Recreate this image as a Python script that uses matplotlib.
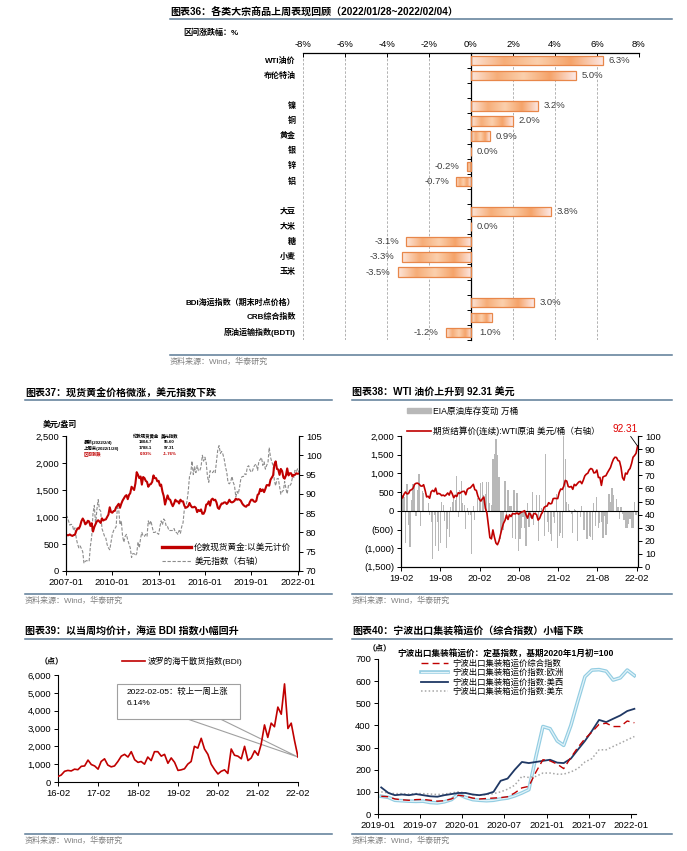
import numpy as np
import pandas as pd
import matplotlib
matplotlib.use("Agg")
import matplotlib.pyplot as plt
import matplotlib.dates as mdates
import matplotlib.ticker as mticker
import matplotlib.patheffects as pe
from matplotlib.colors import LinearSegmentedColormap
from matplotlib.patches import Polygon, Rectangle, Patch
from matplotlib.lines import Line2D
from matplotlib.transforms import blended_transform_factory

plt.rcParams["font.family"] = ["Liberation Sans", "Noto Sans CJK SC", "DejaVu Sans"]
plt.rcParams["axes.unicode_minus"] = False

# ---------------- data ----------------
# chart 36: weekly change of commodities, %
commodities = ["WTI油价", "布伦特油", "", "镍", "铜", "黄金", "银", "锌", "铝", "",
               "大豆", "大米", "糖", "小麦", "玉米", "",
               "BDI海运指数（期末时点价格）", "CRB综合指数", "原油运输指数(BDTI)"]
changes = [6.3, 5.0, np.nan, 3.2, 2.0, 0.9, 0.0, -0.2, -0.7, np.nan,
           3.8, 0.0, -3.1, -3.3, -3.5, np.nan, 3.0, 1.0, -1.2]

# chart 37: monthly gold (USD/oz) and dollar index, 2007-01 .. 2022-02
gold = [650, 665, 662, 677, 660, 650, 665, 673, 743, 790, 783, 834,
        923, 972, 933, 865, 885, 930, 918, 834, 885, 730, 815, 870,
        920, 940, 915, 890, 975, 935, 950, 955, 1000, 1045, 1180, 1090,
        1080, 1110, 1115, 1180, 1210, 1245, 1170, 1245, 1305, 1345, 1385, 1405,
        1330, 1410, 1440, 1560, 1530, 1500, 1620, 1830, 1780, 1720, 1750, 1600,
        1740, 1720, 1670, 1650, 1560, 1600, 1610, 1650, 1770, 1720, 1720, 1660,
        1670, 1580, 1600, 1470, 1390, 1230, 1320, 1400, 1330, 1320, 1250, 1200,
        1250, 1320, 1290, 1290, 1250, 1320, 1290, 1290, 1210, 1170, 1180, 1200,
        1260, 1210, 1180, 1180, 1190, 1170, 1090, 1130, 1110, 1140, 1060, 1060,
        1110, 1230, 1240, 1290, 1210, 1320, 1340, 1310, 1320, 1270, 1170, 1150,
        1210, 1250, 1250, 1270, 1270, 1240, 1270, 1320, 1280, 1270, 1280, 1300,
        1340, 1320, 1330, 1320, 1300, 1250, 1220, 1200, 1190, 1220, 1220, 1280,
        1320, 1320, 1290, 1280, 1300, 1410, 1430, 1520, 1480, 1510, 1460, 1520,
        1590, 1590, 1580, 1690, 1730, 1770, 1970, 2030, 1890, 1880, 1780, 1890,
        1850, 1730, 1710, 1770, 1900, 1770, 1810, 1810, 1750, 1780, 1780, 1810,
        1800, 1805]
dxy = [84.5, 84.0, 83.0, 81.9, 82.1, 82.0, 80.5, 81.2, 78.5, 77.0, 76.0, 76.5,
       75.8, 75.0, 72.0, 72.5, 72.7, 72.6, 72.5, 76.5, 79.0, 85.0, 87.0, 82.0,
       86.0, 88.5, 86.0, 85.5, 81.0, 80.0, 79.0, 78.5, 76.8, 76.0, 75.5, 77.5,
       79.5, 80.5, 81.0, 81.5, 86.5, 86.0, 82.0, 83.0, 79.0, 77.5, 79.0, 79.5,
       78.0, 77.0, 76.0, 73.5, 74.5, 74.5, 74.0, 74.5, 77.5, 76.0, 78.5, 80.0,
       79.0, 79.0, 79.5, 79.0, 83.0, 82.0, 83.0, 81.5, 80.0, 80.0, 80.2, 79.8,
       79.5, 81.5, 83.0, 82.0, 83.5, 83.0, 81.5, 81.5, 80.5, 80.5, 80.5, 80.5,
       81.0, 80.0, 80.0, 79.5, 80.5, 79.8, 81.5, 82.5, 86.0, 86.5, 88.0, 90.5,
       94.5, 95.5, 98.5, 95.0, 97.0, 95.5, 97.3, 96.0, 96.0, 97.0, 100.0, 98.5,
       99.5, 98.0, 94.5, 93.0, 96.0, 95.8, 95.5, 96.0, 95.5, 98.5, 101.5, 102.5,
       100.5, 101.0, 100.3, 99.0, 97.0, 95.6, 92.9, 92.6, 93.1, 94.5, 93.0, 92.1,
       89.2, 90.6, 90.0, 91.8, 94.0, 94.5, 94.5, 95.2, 95.0, 97.0, 97.3, 96.2,
       95.6, 96.0, 97.0, 97.5, 97.7, 96.1, 98.5, 98.9, 99.4, 97.4, 98.3, 96.4,
       97.4, 98.1, 102.0, 99.5, 98.3, 97.4, 93.4, 92.1, 93.9, 94.0, 91.9, 89.9,
       90.6, 90.9, 93.2, 91.3, 90.0, 92.3, 92.1, 92.6, 94.2, 94.1, 96.1, 95.7,
       96.5, 95.6]
gold_table_rows = ["最新(2022/2/4)", "上周末(2022/1/28)", "区间涨跌"]
gold_table_gold = ["1804.7", "1788.1", "0.93%"]
gold_table_dxy = ["95.60", "97.31", "-1.76%"]

# chart 38: weekly EIA crude stock change (10k bbl) and WTI (USD/bbl)
eia = [130, 360, 370, -860, 710, -390, -960, 280, 720, 700, -140, 550, 990,
       -400, 540, 470, -30, -30, 220, -110, -310, -1280, -110, -950, -310, -1080,
       -850, 240, 160, -270, -1000, -480, -690, 110, 240, 310, 290, 930, -170,
       570, 790, 220, 160, -490, 80, -110, -110, -1150,
       120, -250, -40, 350, 340, 740, 760, 420, 450, 780, 770, 200, 160,
       1380, 1520, 1920, 1500, 900, -750, -500, -500, 790, -210, 570, 120, 140,
       -720, 570, -750, 490, -1060, -740, -450, -160, -470, -940, 200, -440, -200,
       500, -380, -100, 430, -800, 430, 77, -75, -680, 1520, -310, -560, -610,
       -800, -170, -320, 440, -990, -660, -580, -720, 2160, 1380, 240, 190, 10,
       -90, -590, 60, 10, -800, -40, -170, 130, -510, -520, -740, -760, -670,
       -690, -790, 210, -410, 360, -450, -320, -300, -720, -150, -640, -350, 460,
       230, 610, 430, -43, 330, 100, -210, 100, -91, -240, -460, -470, -360, -210,
       -460, -460, 240, -100]
wti = [55.3, 52.7, 55.6, 57.3, 55.8, 56.1, 58.5, 59.0, 60.1, 63.1, 63.9, 64.0,
       63.3, 61.9, 61.7, 62.8, 58.6, 53.5, 54.0, 52.5, 57.4, 58.5, 57.5, 60.2,
       55.6, 56.2, 55.7, 54.5, 54.9, 54.2, 55.1, 56.5, 54.9, 58.1, 55.9, 52.8,
       54.7, 53.8, 56.7, 56.2, 57.2, 57.7, 57.8, 55.2, 59.2, 60.1, 60.4, 61.7,
       63.1, 59.0, 58.5, 54.2, 51.6, 50.3, 52.1, 53.4, 44.8, 41.3, 31.7, 22.4,
       21.5, 28.3, 22.8, 18.3, 17.0, 19.8, 24.7, 29.4, 33.3, 35.5, 39.6, 36.3,
       39.8, 38.5, 40.7, 40.6, 40.6, 41.3, 40.3, 41.2, 42.0, 42.3, 43.0, 39.8,
       37.3, 41.1, 40.3, 37.1, 40.6, 40.9, 39.9, 35.8, 37.1, 40.1, 42.2, 45.5,
       46.3, 46.6, 49.1, 48.2, 48.5,
       52.2, 52.4, 52.3, 52.2, 56.9, 59.5, 59.2, 61.5, 66.1, 65.6, 61.4, 61.0,
       61.5, 59.3, 63.1, 62.1, 63.6, 64.9, 65.4, 63.6, 66.3, 69.6, 70.9, 71.6,
       74.1, 75.2, 74.6, 71.8, 72.1, 74.0, 68.3, 68.4, 62.3, 68.7, 69.3, 69.7,
       72.0, 74.0, 75.9, 79.4, 82.3, 83.8, 83.6, 81.3, 80.8, 76.1, 68.2, 66.3,
       71.7, 70.9, 73.8, 75.2,
       78.9, 83.8, 85.1, 86.8, 92.31]

# chart 39: BDI, monthly 2016-02 .. 2022-02
bdi = [310, 390, 600, 650, 620, 720, 690, 880, 900, 1230, 980,
       900, 720, 1150, 1300, 950, 850, 900, 1150, 1450, 1550, 1400, 1700,
       1250, 1100, 1150, 1000, 1400, 1200, 1700, 1700, 1450, 1550, 1050, 1350,
       1100, 650, 680, 740, 1000, 1150, 2000, 1900, 2450, 1850, 1550, 1000,
       700, 450, 600, 680, 480, 1850, 1500, 1450, 1300, 2000, 1200, 1350,
       1750, 1500, 2100, 3200, 2500, 3300, 3100, 4200, 3800, 5500, 3000, 3300,
       2300, 1400]

# chart 40: Ningbo container freight index, monthly 2019-01 .. 2022-01 (2020-01 = 100)
nb_comp = [80, 78, 68, 64, 62, 65, 66, 62, 58, 60, 68, 85,
           80, 72, 68, 70, 72, 74, 78, 95, 118, 125, 190, 245,
           240, 225, 205, 255, 300, 340, 370, 405, 410, 395, 395, 420,
           412]
nb_europe = [80, 75, 62, 60, 58, 57, 58, 52, 50, 55, 65, 90,
             75, 65, 62, 60, 62, 68, 72, 82, 95, 110, 260, 395,
             385, 330, 310, 400, 510, 620, 650, 652, 645, 605, 615, 650,
             625]
nb_uswest = [120, 95, 85, 88, 85, 90, 85, 80, 78, 85, 90, 95,
             95, 88, 85, 90, 100, 150, 160, 200, 235, 230, 235, 240,
             245, 232, 230, 250, 290, 330, 375, 425, 415, 430, 445, 465,
             475]
nb_useast = [100, 95, 92, 92, 90, 92, 92, 90, 88, 90, 95, 100,
             95, 88, 85, 88, 92, 100, 112, 130, 170, 165, 170, 185,
             185, 180, 180, 190, 205, 235, 250, 290, 290, 305, 320, 335,
             350]
nb_names = ["宁波出口集装箱运价综合指数", "宁波出口集装箱运价指数:欧洲",
            "宁波出口集装箱运价指数:美西", "宁波出口集装箱运价指数:美东"]

# ---------------- layout helpers ----------------
W, H = 687, 851
fig = plt.figure(figsize=(W / 100, H / 100), dpi=100)
fig.patch.set_facecolor("white")

RULE = "#5b7a96"
SRC = "#7f7f7f"
RED = "#c00000"


def rect(l, t, r, b):
    return [l / W, 1 - b / H, (r - l) / W, (b - t) / H]


def hline(x0, x1, y):
    fig.add_artist(Line2D([x0 / W, x1 / W], [1 - y / H, 1 - y / H],
                          transform=fig.transFigure, color=RULE, lw=1.1))


def ftext(x, y, s, **kw):
    fig.text(x / W, 1 - y / H, s, **kw)


def header(x0, x1, y, title):
    ftext(x0, y, title, fontsize=7.2, fontweight="bold", va="center")
    hline(x0, x1, y + 7)


def source(x0, x1, y):
    hline(x0, x1, y - 7)
    ftext(x0, y, "资料来源：Wind，华泰研究", fontsize=5.8, color=SRC, va="center")


def style_ticks(ax, size=6.8):
    ax.tick_params(labelsize=size, length=3, width=0.7, direction="out", pad=2)


# ---------------- chart 36 ----------------
header(170, 672, 12, "图表36：各类大宗商品上周表现回顾（2022/01/28~2022/02/04）")
ftext(183, 33, "区间涨跌幅：%", fontsize=5.8, fontweight="bold", va="center")

ax = fig.add_axes(rect(303, 53, 639, 340))
n = len(commodities)
bar_cmap = LinearSegmentedColormap.from_list(
    "bar", ["#fde6da", "#f6ad78", "#fbd0ad", "#f5a369", "#fde9e6"])
grad = np.linspace(0, 1, 256).reshape(1, -1)
bh = 0.62
for i, v in enumerate(changes):
    if np.isnan(v):
        continue
    b = ax.barh(i, v, height=bh, color="none", edgecolor="#e8874a", lw=0.9, zorder=3)[0]
    if v != 0:
        im = ax.imshow(grad, cmap=bar_cmap, aspect="auto", interpolation="bicubic",
                       extent=[min(0, v), max(0, v), i + bh / 2, i - bh / 2], zorder=2)
        im.set_clip_path(b)
    lab = f"{v:.1f}%"
    if commodities[i] == "CRB综合指数":
        ax.annotate(lab, (0, i + 1), xytext=(6, 0), textcoords="offset points",
                    ha="left", va="center", fontsize=6.8, color="#404040")
    elif v >= 0:
        ax.annotate(lab, (v, i), xytext=(4, 0), textcoords="offset points",
                    ha="left", va="center", fontsize=6.8, color="#404040")
    else:
        ax.annotate(lab, (v, i), xytext=(-5, 0), textcoords="offset points",
                    ha="right", va="center", fontsize=6.8, color="#404040")

ax.set_xlim(-8, 8)
ax.set_ylim(n - 0.5, -0.5)
for gx in range(-8, 9, 2):
    if gx != 0:
        ax.axvline(gx, color="#a6a6a6", lw=0.6, ls=(0, (3, 2)), zorder=0)
ax.xaxis.tick_top()
ax.set_xticks(range(-8, 9, 2))
ax.xaxis.set_major_formatter(mticker.FuncFormatter(lambda x, p: f"{int(x)}%"))
ax.tick_params(axis="x", labelsize=6.8, length=3, width=0.7, direction="in", pad=3)
ax.set_yticks(np.arange(-0.5, n, 1))
ax.tick_params(axis="y", labelleft=False, length=3, width=0.7, direction="out")
ax.spines["left"].set_position(("data", 0))
ax.spines["bottom"].set_visible(False)
ax.spines["right"].set_visible(False)
ax.spines["top"].set_linewidth(0.9)
ax.spines["left"].set_linewidth(0.9)
trans = blended_transform_factory(ax.transAxes, ax.transData)
for i, name in enumerate(commodities):
    if name:
        ax.text(-0.022, i, name, transform=trans, ha="right", va="center",
                fontsize=5.8, fontweight="bold")

source(170, 672, 362)

# ---------------- chart 37 ----------------
header(25, 332, 393, "图表37：现货黄金价格微涨，美元指数下跌")
ftext(43, 425, "美元/盎司", fontsize=5.8, fontweight="bold", va="center")

dates37 = pd.date_range("2007-01-01", periods=len(gold), freq="MS")
ax = fig.add_axes(rect(66, 436, 299, 571))
ax2 = ax.twinx()
ax.set_zorder(ax2.get_zorder() + 1)
ax.patch.set_visible(False)
l_gold, = ax.plot(dates37, gold, color=RED, lw=1.5)
l_dxy, = ax2.plot(dates37, dxy, color="#8c8c8c", lw=0.8, ls=(0, (3, 1.5)))
ax.set_ylim(0, 2500)
ax.set_yticks(range(0, 2501, 500))
ax.yaxis.set_major_formatter(mticker.StrMethodFormatter("{x:,.0f}"))
ax2.set_ylim(70, 105)
ax2.set_yticks(range(70, 106, 5))
ax.set_xlim(pd.Timestamp("2007-01-01"), pd.Timestamp("2022-02-04"))
ax.set_xticks(pd.date_range("2007-01-01", "2022-01-01", freq="36MS"))
ax.xaxis.set_major_formatter(mdates.DateFormatter("%Y-%m"))
style_ticks(ax)
style_ticks(ax2)
for a in (ax, ax2):
    a.spines["top"].set_visible(False)
    for s in ("left", "right", "bottom"):
        a.spines[s].set_linewidth(0.8)
ax.legend([l_gold, l_dxy], ["伦敦现货黄金:以美元计价", "美元指数（右轴）"],
          loc="upper left", bbox_to_anchor=(0.41, 0.21), frameon=False,
          fontsize=6.2, handlelength=3.4, handletextpad=0.4, labelspacing=0.6,
          borderpad=0, borderaxespad=0)
ax.legend_.get_lines()[0].set_linewidth(2.4)

# small summary table in the upper-left corner
tx = [0.077, 0.343, 0.445]
ty = [1.0, 0.956, 0.911, 0.867]
tfs = 3.2
ax.text(tx[1], ty[0], "伦敦现货黄金", transform=ax.transAxes, fontsize=tfs,
        fontweight="bold", ha="center", va="center")
ax.text(tx[2], ty[0], "美元指数", transform=ax.transAxes, fontsize=tfs,
        fontweight="bold", ha="center", va="center")
for r, (lab, g, d) in enumerate(zip(gold_table_rows, gold_table_gold, gold_table_dxy)):
    c = RED if r == 2 else "black"
    ax.text(tx[0], ty[r + 1], lab, transform=ax.transAxes, fontsize=tfs,
            fontweight="bold", color=c, va="center")
    ax.text(tx[1], ty[r + 1], g, transform=ax.transAxes, fontsize=tfs,
            fontweight="bold", color=c, ha="center", va="center")
    ax.text(tx[2], ty[r + 1], d, transform=ax.transAxes, fontsize=tfs,
            fontweight="bold", color=c, ha="center", va="center")

source(25, 332, 601)

# ---------------- chart 38 ----------------
header(352, 672, 393, "图表38：WTI 油价上升到 92.31 美元")

eia_dates = pd.date_range(end="2022-01-28", periods=len(eia), freq="W-FRI")
wti_dates = pd.date_range(end="2022-02-04", periods=len(wti), freq="W-FRI")
ax = fig.add_axes(rect(401, 436, 638, 567))
ax.bar(eia_dates, eia, width=5.5, color="#b8b8b8", zorder=1)
ax.axhline(0, color="black", lw=0.8, zorder=2)
ax2 = ax.twinx()
l_wti, = ax2.plot(wti_dates, wti, color=RED, lw=1.2)
ax.set_ylim(-1500, 2000)
ax.set_yticks(range(-1500, 2001, 500))
ax.yaxis.set_major_formatter(mticker.FuncFormatter(
    lambda v, p: f"({abs(v):,.0f})" if v < 0 else f"{v:,.0f}"))
ax2.set_ylim(0, 100)
ax2.set_yticks(range(0, 101, 10))
ax.set_xlim(pd.Timestamp("2019-02-01"), pd.Timestamp("2022-02-06"))
ax.set_xticks(pd.date_range("2019-02-01", "2022-02-01", freq="6MS"))
ax.xaxis.set_major_formatter(mdates.DateFormatter("%y-%m"))
style_ticks(ax)
style_ticks(ax2)
for a in (ax, ax2):
    a.spines["top"].set_visible(False)
    for s in ("left", "right", "bottom"):
        a.spines[s].set_linewidth(0.8)
ax.legend([Patch(color="#b8b8b8"), Line2D([], [], color=RED, lw=1.2)],
          ["EIA原油库存变动 万桶", "期货结算价(连续):WTI原油 美元/桶（右轴）"],
          loc="upper left", bbox_to_anchor=(0.025, 1.225), frameon=False,
          fontsize=6.2, handlelength=2.8, handleheight=0.6, handletextpad=0.2,
          labelspacing=1.25, borderpad=0, borderaxespad=0)
ax2.annotate(f"{wti[-1]:.2f}", (wti_dates[-1], wti[-1]), xytext=(-9, 9),
             textcoords="offset points", ha="center", va="bottom", color="#e00000",
             fontsize=7.2, arrowprops=dict(arrowstyle="-", color="black", lw=0.6,
                                           shrinkA=0, shrinkB=0))

source(352, 672, 601)

# ---------------- chart 39 ----------------
header(25, 332, 632, "图表39：以当周均价计，海运 BDI 指数小幅回升")
ftext(40, 661, "（点）", fontsize=5.8, fontweight="bold", va="center")

bdi_dates = pd.date_range("2016-02-01", periods=len(bdi), freq="MS")
ax = fig.add_axes(rect(58, 675, 298, 782))
l_bdi, = ax.plot(bdi_dates, bdi, color=RED, lw=1.2, zorder=3)
ax.set_ylim(0, 6000)
ax.set_yticks(range(0, 6001, 1000))
ax.yaxis.set_major_formatter(mticker.StrMethodFormatter("{x:,.0f}"))
ax.set_xlim(pd.Timestamp("2016-02-01"), pd.Timestamp("2022-02-01"))
ax.set_xticks(pd.date_range("2016-02-01", "2022-02-01", freq="12MS"))
ax.xaxis.set_major_formatter(mdates.DateFormatter("%y-%m"))
style_ticks(ax)
ax.spines["top"].set_visible(False)
ax.spines["right"].set_visible(False)
ax.legend([l_bdi], ["波罗的海干散货指数(BDI)"], loc="center left",
          bbox_to_anchor=(0.265, 1.13), frameon=False, fontsize=6,
          handlelength=2.8, handletextpad=0.3, borderpad=0, borderaxespad=0)

# callout box pointing at the latest value
tip = ax.transAxes.inverted().transform(ax.transData.transform(
    (mdates.date2num(bdi_dates[-1]), bdi[-1])))
ax.add_patch(Polygon([[0.5375, 0.59], [0.675, 0.59], tip], closed=True,
                     transform=ax.transAxes, fc="white", ec="#a0a0a0", lw=0.8,
                     zorder=2, clip_on=False))
ax.add_patch(Rectangle((0.246, 0.59), 0.512, 0.325, transform=ax.transAxes,
                       fc="white", ec="#a0a0a0", lw=0.8, zorder=4, clip_on=False))
ax.text(0.285, 0.84, "2022-02-05：较上一周上涨", transform=ax.transAxes,
        fontsize=6, va="center", zorder=5)
ax.text(0.285, 0.735, "6.14%", transform=ax.transAxes, fontsize=6,
        va="center", zorder=5)

source(25, 332, 841)

# ---------------- chart 40 ----------------
header(352, 672, 632, "图表40：宁波出口集装箱运价（综合指数）小幅下跌")
ftext(368, 648, "（点）", fontsize=5.8, fontweight="bold", va="center")
ftext(397, 653, "宁波出口集装箱运价：定基指数，基期2020年1月初=100",
      fontsize=6.2, fontweight="bold", va="center")

nb_dates = pd.date_range("2019-01-01", periods=len(nb_comp), freq="MS") + pd.Timedelta(days=14)
ax = fig.add_axes(rect(378, 659, 636, 814))
l_eu, = ax.plot(nb_dates, nb_europe, color="#e3f3f9", lw=0.9,
                path_effects=[pe.Stroke(linewidth=2.6, foreground="#93cde2"), pe.Normal()])
l_ue, = ax.plot(nb_dates, nb_useast, color="#a6a6a6", lw=1.1, ls=(0, (1, 1.5)))
l_uw, = ax.plot(nb_dates, nb_uswest, color="#1f3864", lw=1.3)
l_cp, = ax.plot(nb_dates, nb_comp, color=RED, lw=1.0, ls=(0, (5, 3)))
ax.set_ylim(0, 700)
ax.set_yticks(range(0, 701, 100))
ax.set_xlim(pd.Timestamp("2019-01-01"), pd.Timestamp("2022-01-22"))
ax.set_xticks(pd.date_range("2019-01-01", "2022-01-01", freq="6MS"))
ax.xaxis.set_major_formatter(mdates.DateFormatter("%Y-%m"))
style_ticks(ax)
ax.spines["top"].set_visible(False)
ax.spines["right"].set_visible(False)
ax.legend([l_cp, l_eu, l_uw, l_ue], nb_names, loc="upper left",
          bbox_to_anchor=(0.165, 0.995), frameon=False, fontsize=6,
          handlelength=3.3, handletextpad=0.5, labelspacing=0.12,
          borderpad=0, borderaxespad=0)

source(352, 672, 841)

fig.savefig("out.png", dpi=100)
